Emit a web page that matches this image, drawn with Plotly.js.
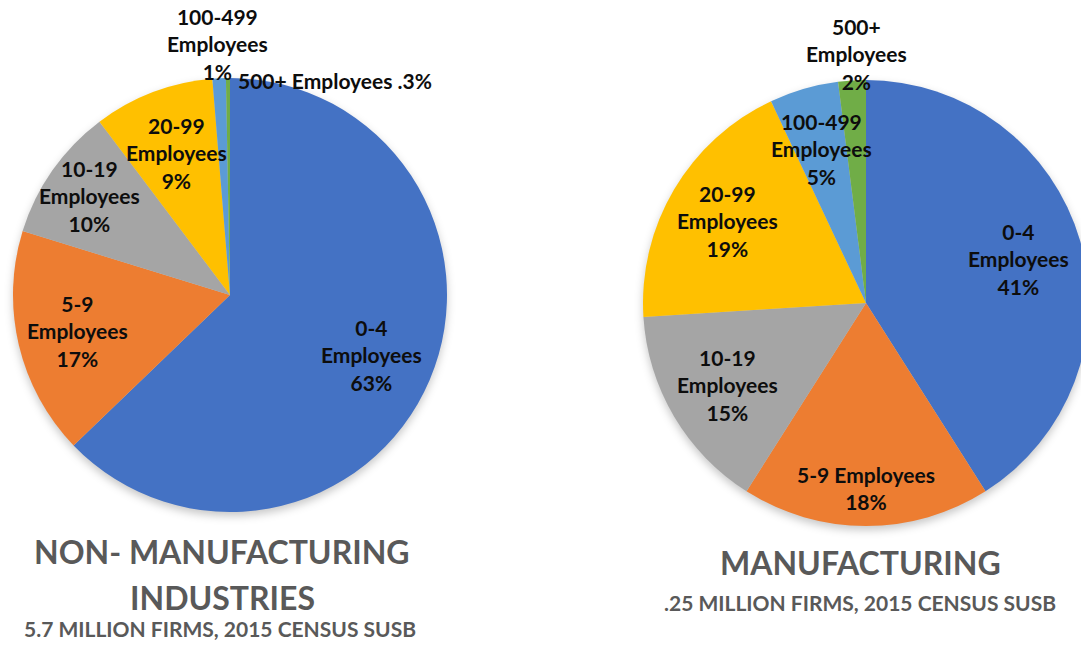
<!DOCTYPE html>
<html><head><meta charset="utf-8">
<script src="https://cdn.plot.ly/plotly-3.0.1.min.js"></script>
<style>html,body{margin:0;padding:0;overflow:hidden;background:#fff}#chart{width:1095px;height:645px}
.pielayer .trace{filter:drop-shadow(0px 4px 4px rgba(0,0,0,0.22));}</style>
</head><body><div id="chart"></div>
<script>
// ---- data ----
const categories = ["0-4 Employees","5-9 Employees","10-19 Employees","20-99 Employees","100-499 Employees","500+ Employees"];
const nonMfgShare = [63, 17, 10, 9, 1, 0.3];
const mfgShare = [41, 18, 15, 19, 5, 2];
const nonMfgLabels = ["0-4<br>Employees<br>63%","5-9<br>Employees<br>17%","10-19<br>Employees<br>10%","20-99<br>Employees<br>9%","100-499<br>Employees<br>1%","500+ Employees .3%"];
const mfgLabels = ["0-4<br>Employees<br>41%","5-9 Employees<br>18%","10-19<br>Employees<br>15%","20-99<br>Employees<br>19%","100-499<br>Employees<br>5%","500+<br>Employees<br>2%"];
const colors = ["#4472C4","#ED7D31","#A5A5A5","#FFC000","#5B9BD5","#70AD47"];

// ---- geometry / style ----
const W = 1095, H = 645;
const leftPie = {cx: 230, cy: 295, r: 217};
const rightPie = {cx: 866, cy: 303, r: 223};
const leftPlace = [{f:0.71},{f:0.72},{f:0.79},{f:0.70},{f:1.16},{f:1.0, xanchor:'left', dx:8, dy:2}];
const rightPlace = [{f:0.71},{f:0.83},{f:0.72},{f:0.72},{f:0.72},{f:1.12, dx:6}];
const labelFont = {family:"Lato, 'Open Sans', sans-serif", size:21, color:"#0d0d0d", weight:"bold"};

function domainOf(p){
  return {x:[(p.cx-p.r)/W,(p.cx+p.r)/W], y:[1-(p.cy+p.r)/H, 1-(p.cy-p.r)/H]};
}
function pieTrace(vals, p){
  return {type:'pie', labels:categories, values:vals, sort:false, direction:'clockwise', rotation:0,
    marker:{colors:colors, line:{color:'#ffffff', width:0}}, textinfo:'none', hoverinfo:'label+percent',
    showlegend:false, domain:domainOf(p)};
}
function labelAnns(vals, texts, p, place){
  const tot = vals.reduce((a,b)=>a+b,0);
  let cum = 0; const out = [];
  vals.forEach((v,i)=>{
    const mid = (cum + v/2)/tot*2*Math.PI; cum += v;
    const pl = place[i];
    const px = p.cx + pl.f*p.r*Math.sin(mid) + (pl.dx||0);
    const py = p.cy - pl.f*p.r*Math.cos(mid) + (pl.dy||0);
    out.push({xref:'paper', yref:'paper', x:px/W, y:1-py/H, text:texts[i], showarrow:false,
      xanchor:pl.xanchor||'center', yanchor:'middle', align:'center', font:labelFont});
  });
  return out;
}
const titleFont = {family:"Lato, 'Open Sans', sans-serif", size:32, color:"#595959", weight:"bold"};
const subFont = {family:"Lato, 'Open Sans', sans-serif", size:21, color:"#595959", weight:"bold"};
function txt(x,y,t,f){return {xref:'paper',yref:'paper',x:x/W,y:1-y/H,text:t,showarrow:false,xanchor:'center',yanchor:'middle',font:f};}

const annotations = [].concat(
  labelAnns(nonMfgShare, nonMfgLabels, leftPie, leftPlace),
  labelAnns(mfgShare, mfgLabels, rightPie, rightPlace),
  [txt(222,551,"NON- MANUFACTURING",titleFont), txt(222,597,"INDUSTRIES",titleFont),
   txt(220,628,"5.7 MILLION FIRMS, 2015 CENSUS SUSB",subFont),
   txt(860,562,"MANUFACTURING",titleFont),
   txt(860,602,".25 MILLION FIRMS, 2015 CENSUS SUSB",subFont)]
);

Plotly.newPlot('chart', [pieTrace(nonMfgShare,leftPie), pieTrace(mfgShare,rightPie)], {
  width:W, height:H, autosize:false, margin:{l:0,r:0,t:0,b:0},
  paper_bgcolor:'#ffffff', plot_bgcolor:'#ffffff', annotations:annotations
}, {displayModeBar:false, staticPlot:true});
</script></body></html>
